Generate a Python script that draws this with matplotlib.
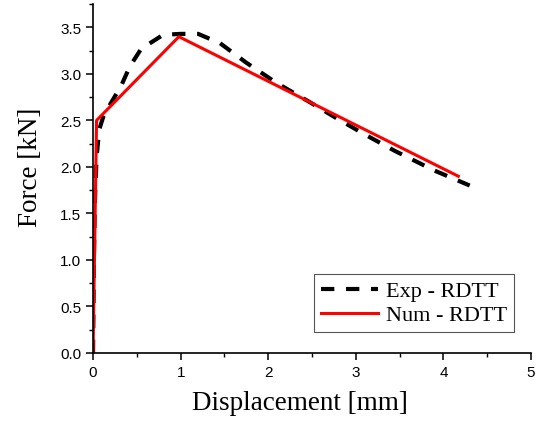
import numpy as np
import matplotlib
matplotlib.use('Agg')
import matplotlib.pyplot as plt
from matplotlib.ticker import MultipleLocator

exp_disp = [0.0, 0.01, 0.02, 0.04, 0.07, 0.12, 0.2, 0.32, 0.42, 0.55, 0.8, 1.0, 1.2,
            1.45, 1.75, 2.1, 2.45, 2.75, 3.1, 3.45, 3.9, 4.3]
exp_force = [0.0, 1.0, 1.6, 2.1, 2.4, 2.55, 2.68, 2.87, 3.08, 3.27, 3.42, 3.43, 3.43,
             3.33, 3.12, 2.9, 2.71, 2.54, 2.35, 2.17, 1.96, 1.8]

# numerical curve
num_disp = [0.0, 0.04, 0.98, 4.17]
num_force = [0.0, 2.5, 3.4, 1.9]


def main():
    fig = plt.figure(figsize=(5.41, 4.27), dpi=100)
    ax = fig.add_axes([0.172, 0.171, 0.8095, 0.817])

    ax.plot(exp_disp, exp_force, color='black', lw=3.0, dashes=(3.2, 2.8),
            label='Exp - RDTT')
    ax.plot(num_disp, num_force, color='red', lw=2.2, label='Num - RDTT')

    ax.set_xlim(0, 5)
    ax.set_ylim(0, 3.75)
    ax.xaxis.set_major_locator(MultipleLocator(1))
    ax.xaxis.set_minor_locator(MultipleLocator(0.5))
    ax.yaxis.set_major_locator(MultipleLocator(0.5))
    ax.yaxis.set_minor_locator(MultipleLocator(0.25))
    ax.yaxis.set_major_formatter(plt.FormatStrFormatter('%.1f'))

    for side in ['top', 'right']:
        ax.spines[side].set_visible(False)
    for side in ['left', 'bottom']:
        ax.spines[side].set_linewidth(1.2)

    ax.tick_params(which='major', direction='out', length=5, width=1.1,
                   labelsize=11)
    ax.tick_params(which='minor', direction='out', length=3, width=1.0)
    for lbl in ax.get_xticklabels() + ax.get_yticklabels():
        lbl.set_family('Liberation Sans')

    ax.set_xlabel('Displacement [mm]', family='Liberation Serif', fontsize=19.5)
    ax.set_ylabel('Force [kN]', family='Liberation Serif', fontsize=19.5)
    ax.xaxis.set_label_coords(0.473, -0.105)
    ax.yaxis.set_label_coords(-0.115, 0.535)

    leg = ax.legend(loc='lower right', bbox_to_anchor=(0.961, 0.06),
                    prop={'family': 'Liberation Serif', 'size': 16},
                    fancybox=False, framealpha=1, edgecolor='#555555',
                    handlelength=2.6, borderpad=0.3, labelspacing=0.15,
                    handletextpad=0.35, borderaxespad=0)
    leg.get_frame().set_linewidth(0.8)

    fig.savefig('out.png', dpi=100)


if __name__ == "__main__":
    main()
